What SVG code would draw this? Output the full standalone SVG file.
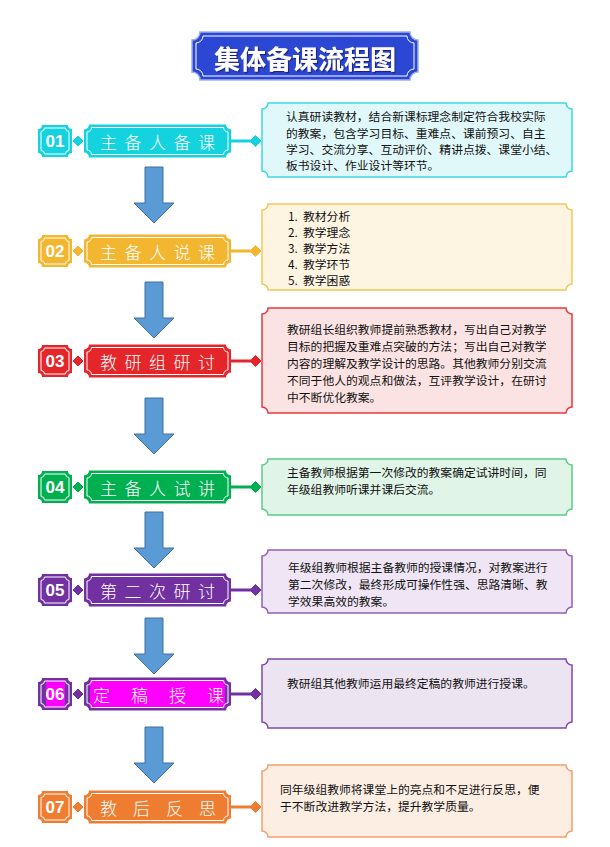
<svg xmlns="http://www.w3.org/2000/svg" xmlns:xlink="http://www.w3.org/1999/xlink" width="610" height="847" viewBox="0 0 610 847">
<defs>
<style>
.bt{font-family:"Noto Sans CJK SC","Noto Sans",sans-serif;font-size:11.8px;fill:#111;dominant-baseline:central}
.lbl{font-family:"Noto Sans CJK SC",sans-serif;font-weight:300;font-size:17px;fill:#fff;dominant-baseline:central}
.num{font-family:"Liberation Sans",Arial,sans-serif;font-weight:bold;font-size:17px;fill:#fff;text-anchor:middle;dominant-baseline:central}
.inner{fill:none;stroke:#fff;stroke-width:1}
.arrow{fill:#5b9bd5;stroke:#41719c;stroke-width:1}
.c1{fill:#14d3de}.s1{stroke:#14d3de}.b1{fill:#e0f8fa;stroke:#3fd6e0}
.c2{fill:#f2b630}.s2{stroke:#f2b630}.b2{fill:#fdf4e1;stroke:#f5c55a}
.c3{fill:#e4262a}.s3{stroke:#e4262a}.b3{fill:#fbe3e3;stroke:#e8383c}
.c4{fill:#00af50}.s4{stroke:#00af50}.b4{fill:#e0f4e7;stroke:#5ccc8a}
.c5{fill:#7131a0}.s5{stroke:#7131a0}.b5{fill:#efe5f4;stroke:#9060b8}
.c6{fill:#7131a0}.s6{stroke:#7131a0}.b6{fill:#ede4f1;stroke:#7f4aa8}
.c7{fill:#ee7d31}.s7{stroke:#ee7d31}.b7{fill:#fdeee4;stroke:#f4a06c}
.box{stroke-width:1.5}
.line{stroke-width:3;fill:none}
</style>
<path id="badge" d="M42,-16 H68 A4,4 0 0 0 72,-12 V12 A4,4 0 0 0 68,16 H42 A4,4 0 0 0 38,12 V-12 A4,4 0 0 0 42,-16 Z"/>
<path id="badgeIn" d="M44.5,-13 H65.5 A3.5,3.5 0 0 0 69,-9.5 V9.5 A3.5,3.5 0 0 0 65.5,13 H44.5 A3.5,3.5 0 0 0 41,9.5 V-9.5 A3.5,3.5 0 0 0 44.5,-13 Z"/>
<path id="label" d="M89,-16.5 H226 A5,5 0 0 0 231,-11.5 V11.5 A5,5 0 0 0 226,16.5 H89 A5,5 0 0 0 84,11.5 V-11.5 A5,5 0 0 0 89,-16.5 Z"/>
<path id="labelIn" d="M91.5,-13.5 H223.5 A4.5,4.5 0 0 0 228,-9 V9 A4.5,4.5 0 0 0 223.5,13.5 H91.5 A4.5,4.5 0 0 0 87,9 V-9 A4.5,4.5 0 0 0 91.5,-13.5 Z"/>
<path id="arr" d="M145,0 H163 V36 H174 L154,56 L134,36 H145 Z"/>
<filter id="sh" x="-10%" y="-20%" width="120%" height="150%">
<feDropShadow dx="1.2" dy="1.2" stdDeviation="0.3" flood-color="#1a1f6e" flood-opacity="0.9"/>
</filter>
</defs>
<rect width="610" height="847" fill="#fff"/>

<g id="title">
<path d="M200,32 H410 A8,8 0 0 0 418,40 V72 A8,8 0 0 0 410,80 H200 A8,8 0 0 0 192,72 V40 A8,8 0 0 0 200,32 Z" fill="#2c47d4" stroke="#9fb0ee" stroke-width="1.5"/>
<path d="M203,36 H407 A7,7 0 0 0 414,43 V69 A7,7 0 0 0 407,76 H203 A7,7 0 0 0 196,69 V43 A7,7 0 0 0 203,36 Z" fill="none" stroke="#fff" stroke-width="1"/>
<text x="305" y="57" text-anchor="middle" dominant-baseline="central" font-family="'Noto Sans CJK SC',sans-serif" font-weight="bold" font-size="26" fill="#fff" filter="url(#sh)">集体备课流程图</text>
</g>

<g id="connectors">
<g class="s1" transform="translate(0,141)"><line class="line" x1="231" y1="0" x2="252" y2="0"/><polygon class="c1" points="73,0 78,-5 83,0 78,5"/><polygon class="c1" points="250,0 255.5,-5.5 261,0 255.5,5.5"/></g>
<g class="s2" transform="translate(0,251)"><line class="line" x1="231" y1="0" x2="252" y2="0"/><polygon class="c2" points="73,0 78,-5 83,0 78,5"/><polygon class="c2" points="250,0 255.5,-5.5 261,0 255.5,5.5"/></g>
<g class="s3" transform="translate(0,361)"><line class="line" x1="231" y1="0" x2="252" y2="0"/><polygon class="c3" points="73,0 78,-5 83,0 78,5"/><polygon class="c3" points="250,0 255.5,-5.5 261,0 255.5,5.5"/></g>
<g class="s4" transform="translate(0,487)"><line class="line" x1="231" y1="0" x2="252" y2="0"/><polygon class="c4" points="73,0 78,-5 83,0 78,5"/><polygon class="c4" points="250,0 255.5,-5.5 261,0 255.5,5.5"/></g>
<g class="s5" transform="translate(0,590)"><line class="line" x1="231" y1="0" x2="252" y2="0"/><polygon class="c5" points="73,0 78,-5 83,0 78,5"/><polygon class="c5" points="250,0 255.5,-5.5 261,0 255.5,5.5"/></g>
<g class="s6" transform="translate(0,694)"><line class="line" x1="231" y1="0" x2="252" y2="0"/><polygon class="c6" points="73,0 78,-5 83,0 78,5"/><polygon class="c6" points="250,0 255.5,-5.5 261,0 255.5,5.5"/></g>
<g class="s7" transform="translate(0,807)"><line class="line" x1="231" y1="0" x2="252" y2="0"/><polygon class="c7" points="73,0 78,-5 83,0 78,5"/><polygon class="c7" points="250,0 255.5,-5.5 261,0 255.5,5.5"/></g>
<use href="#arr" class="arrow" transform="translate(0,167)"/>
<use href="#arr" class="arrow" transform="translate(0,282)"/>
<use href="#arr" class="arrow" transform="translate(0,398)"/>
<use href="#arr" class="arrow" transform="translate(0,512)"/>
<use href="#arr" class="arrow" transform="translate(0,618)"/>
<use href="#arr" class="arrow" transform="translate(0,727)"/>
</g>

<g id="step01">
<g transform="translate(0,141)">
<use href="#badge" class="c1"/><use href="#badgeIn" class="inner"/>
<text class="num" x="55" y="0">01</text>
<use href="#label" class="c1"/><use href="#labelIn" class="inner"/>
<text class="lbl" x="100" y="0" letter-spacing="7.5">主备人备课</text>
</g>
<path class="box b1" d="M268,103 H566 A6,6 0 0 0 572,109 V171 A6,6 0 0 0 566,177 H268 A6,6 0 0 0 262,171 V109 A6,6 0 0 0 268,103 Z"/>
<text class="bt" x="286" y="115">认真研读教材，结合新课标理念制定符合我校实际</text>
<text class="bt" x="286" y="132">的教案，包含学习目标、重难点、课前预习、自主</text>
<text class="bt" x="286" y="148">学习、交流分享、互动评价、精讲点拨、课堂小结、</text>
<text class="bt" x="286" y="164">板书设计、作业设计等环节。</text>
</g>

<g id="step02">
<g transform="translate(0,251)">
<use href="#badge" class="c2"/><use href="#badgeIn" class="inner"/>
<text class="num" x="55" y="0">02</text>
<use href="#label" class="c2"/><use href="#labelIn" class="inner"/>
<text class="lbl" x="100" y="0" letter-spacing="7.5">主备人说课</text>
</g>
<path class="box b2" d="M268,204 H566 A6,6 0 0 0 572,210 V284 A6,6 0 0 0 566,290 H268 A6,6 0 0 0 262,284 V210 A6,6 0 0 0 268,204 Z"/>
<text class="bt" x="288" y="215">1.<tspan x="303">教材分析</tspan></text>
<text class="bt" x="288" y="231">2.<tspan x="303">教学理念</tspan></text>
<text class="bt" x="288" y="247">3.<tspan x="303">教学方法</tspan></text>
<text class="bt" x="288" y="263">4.<tspan x="303">教学环节</tspan></text>
<text class="bt" x="288" y="279">5.<tspan x="303">教学困惑</tspan></text>
</g>

<g id="step03">
<g transform="translate(0,361)">
<use href="#badge" class="c3"/><use href="#badgeIn" class="inner"/>
<text class="num" x="55" y="0">03</text>
<use href="#label" class="c3"/><use href="#labelIn" class="inner"/>
<text class="lbl" x="100" y="0" letter-spacing="7.5">教研组研讨</text>
</g>
<path class="box b3" d="M268,308 H566 A6,6 0 0 0 572,314 V407 A6,6 0 0 0 566,413 H268 A6,6 0 0 0 262,407 V314 A6,6 0 0 0 268,308 Z"/>
<text class="bt" x="287" y="328">教研组长组织教师提前熟悉教材，写出自己对教学</text>
<text class="bt" x="287" y="345">目标的把握及重难点突破的方法；写出自己对教学</text>
<text class="bt" x="287" y="362">内容的理解及教学设计的思路。其他教师分别交流</text>
<text class="bt" x="287" y="379">不同于他人的观点和做法，互评教学设计，在研讨</text>
<text class="bt" x="287" y="396">中不断优化教案。</text>
</g>

<g id="step04">
<g transform="translate(0,487)">
<use href="#badge" class="c4"/><use href="#badgeIn" class="inner"/>
<text class="num" x="55" y="0">04</text>
<use href="#label" class="c4"/><use href="#labelIn" class="inner"/>
<text class="lbl" x="100" y="0" letter-spacing="7.5">主备人试讲</text>
</g>
<path class="box b4" d="M268,459 H566 A6,6 0 0 0 572,465 V509 A6,6 0 0 0 566,515 H268 A6,6 0 0 0 262,509 V465 A6,6 0 0 0 268,459 Z"/>
<text class="bt" x="287" y="471">主备教师根据第一次修改的教案确定试讲时间，同</text>
<text class="bt" x="287" y="488">年级组教师听课并课后交流。</text>
</g>

<g id="step05">
<g transform="translate(0,590)">
<use href="#badge" class="c5"/><use href="#badgeIn" class="inner"/>
<text class="num" x="55" y="0">05</text>
<use href="#label" class="c5"/><use href="#labelIn" class="inner"/>
<text class="lbl" x="100" y="0" letter-spacing="7.5">第二次研讨</text>
</g>
<path class="box b5" d="M268,550 H566 A6,6 0 0 0 572,556 V607 A6,6 0 0 0 566,613 H268 A6,6 0 0 0 262,607 V556 A6,6 0 0 0 268,550 Z"/>
<text class="bt" x="288" y="566">年级组教师根据主备教师的授课情况，对教案进行</text>
<text class="bt" x="288" y="583">第二次修改，最终形成可操作性强、思路清晰、教</text>
<text class="bt" x="288" y="600">学效果高效的教案。</text>
</g>

<g id="step06">
<g transform="translate(0,694)">
<use href="#badge" class="c6"/>
<rect x="46" y="-13" width="19" height="26" fill="#ff00ff"/>
<use href="#badgeIn" class="inner"/>
<text class="num" x="55" y="0">06</text>
<use href="#label" class="c6"/>
<rect x="90" y="-14" width="135" height="28" fill="#ff00ff"/>
<use href="#labelIn" class="inner"/>
<text class="lbl" x="93" y="0" letter-spacing="21">定稿授课</text>
</g>
<path class="box b6" d="M268,659 H566 A6,6 0 0 0 572,665 V722 A6,6 0 0 0 566,728 H268 A6,6 0 0 0 262,722 V665 A6,6 0 0 0 268,659 Z"/>
<text class="bt" x="287" y="682">教研组其他教师运用最终定稿的教师进行授课。</text>
</g>

<g id="step07">
<g transform="translate(0,807)">
<use href="#badge" class="c7"/><use href="#badgeIn" class="inner"/>
<text class="num" x="55" y="0">07</text>
<use href="#label" class="c7"/><use href="#labelIn" class="inner"/>
<text class="lbl" x="100" y="0" letter-spacing="16">教后反思</text>
</g>
<path class="box b7" d="M268,765 H566 A6,6 0 0 0 572,771 V831 A6,6 0 0 0 566,837 H268 A6,6 0 0 0 262,831 V771 A6,6 0 0 0 268,765 Z"/>
<text class="bt" x="280" y="788">同年级组教师将课堂上的亮点和不足进行反思，便</text>
<text class="bt" x="280" y="805">于不断改进教学方法，提升教学质量。</text>
</g>
</svg>
